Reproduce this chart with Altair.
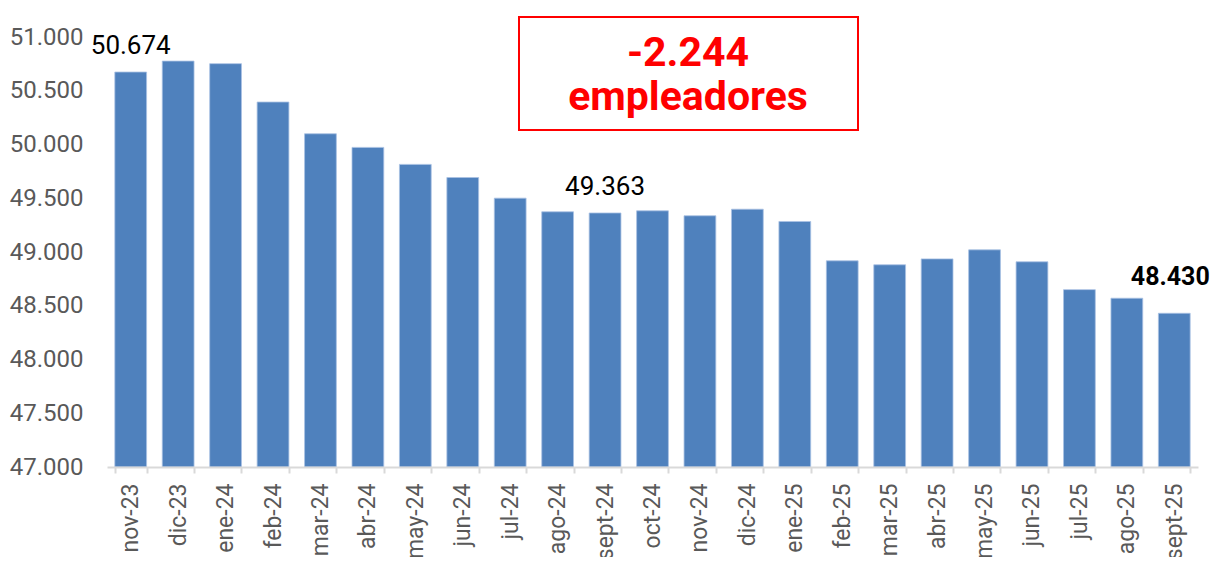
import altair as alt
import pandas as pd

months = ["nov-23", "dic-23", "ene-24", "feb-24", "mar-24", "abr-24", "may-24",
          "jun-24", "jul-24", "ago-24", "sept-24", "oct-24", "nov-24", "dic-24",
          "ene-25", "feb-25", "mar-25", "abr-25", "may-25", "jun-25", "jul-25",
          "ago-25", "sept-25"]
values = [50674, 50776, 50752, 50395, 50100, 49973, 49815,
          49693, 49501, 49374, 49363, 49383, 49337, 49398,
          49284, 48918, 48881, 48936, 49020, 48909, 48650,
          48570, 48430]
y_ticks = [47000, 47500, 48000, 48500, 49000, 49500, 50000, 50500, 51000]
y_min, y_max = 47000, 51000
label_months_normal = ["nov-23", "sept-24"]
label_months_bold = ["sept-25"]
box_lines = ["-2.244", "empleadores"]

df = pd.DataFrame({"mes": months, "valor": values})

FONT = "Roboto"
GRAY = "#595959"
BLUE = "#4F81BD"
RED = "#FF0000"

x_enc = alt.X("mes:N", sort=months,
              scale=alt.Scale(paddingInner=0.33, paddingOuter=0.165),
              axis=alt.Axis(title=None, labelAngle=-90, labelFontSize=23,
                            labelColor=GRAY, labelFont=FONT, labelPadding=10,
                            tickBand="extent", tickSize=6, tickColor="#D9D9D9",
                            tickWidth=2, domainColor="#D9D9D9", domainWidth=2,
                            grid=False, zindex=1))
y_enc = alt.Y("valor:Q",
              scale=alt.Scale(domain=[y_min, y_max], zero=False, nice=False),
              axis=alt.Axis(title=None, values=y_ticks, grid=False, domain=False,
                            ticks=False, labelFontSize=24, labelColor=GRAY,
                            labelFont=FONT, labelPadding=24,
                            labelExpr="replace(format(datum.value, ','), ',', '.')"))

base = alt.Chart(df)

bars = base.mark_bar(color=BLUE, stroke="#A9C1E3", strokeWidth=0.8).encode(
    x=x_enc, y=y_enc, y2=alt.datum(y_min))

lbl_expr = "replace(format(datum.valor, ','), ',', '.')"

labels_normal = base.transform_filter(
    alt.FieldOneOfPredicate(field="mes", oneOf=label_months_normal)
).transform_calculate(lbl=lbl_expr).mark_text(
    font=FONT, fontSize=26, color="black", baseline="alphabetic", dy=-18
).encode(x=alt.X("mes:N", sort=months), y="valor:Q", text="lbl:N")

labels_bold = base.transform_filter(
    alt.FieldOneOfPredicate(field="mes", oneOf=label_months_bold)
).transform_calculate(lbl=lbl_expr).mark_text(
    font=FONT, fontSize=25, fontWeight="bold", color="black",
    baseline="alphabetic", dy=-28, dx=-4
).encode(x=alt.X("mes:N", sort=months), y="valor:Q", text="lbl:N")

box = alt.Chart(pd.DataFrame({"k": [0]})).mark_rect(
    fill="white", stroke=RED, strokeWidth=2
).encode(x=alt.value(412), x2=alt.value(751), y=alt.value(-20), y2=alt.value(93))

box_text1 = alt.Chart(pd.DataFrame({"t": [box_lines[0]]})).mark_text(
    font=FONT, fontSize=41, fontWeight="bold", color=RED, baseline="alphabetic"
).encode(x=alt.value(581), y=alt.value(29), text="t:N")

box_text2 = alt.Chart(pd.DataFrame({"t": [box_lines[1]]})).mark_text(
    font=FONT, fontSize=41, fontWeight="bold", color=RED, baseline="alphabetic"
).encode(x=alt.value(581), y=alt.value(73), text="t:N")

chart = alt.layer(bars, labels_normal, labels_bold, box, box_text1, box_text2).properties(
    width=1091, height=430,
    autosize=alt.AutoSizeParams(type="none"),
    padding={"left": 99, "top": 29, "right": 14, "bottom": 90},
).configure(background="white").configure_view(strokeWidth=0, stroke="transparent")

chart.save("out.html", embed_options={"renderer": "svg", "actions": False})
